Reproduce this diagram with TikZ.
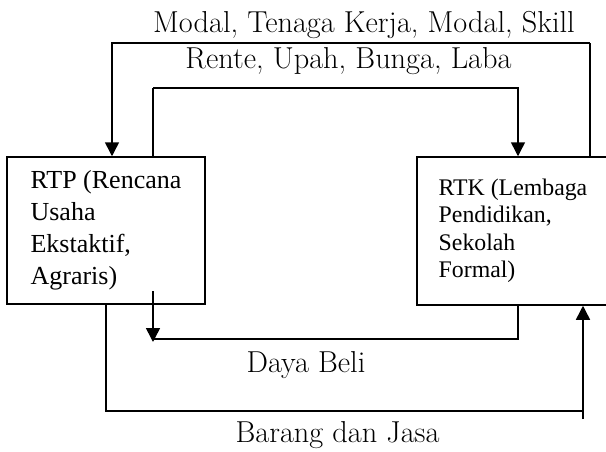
\documentclass[tikz,border=0pt]{standalone}
\usepackage{fontspec}
\newfontfamily\boxfont{LiberationSerif}[Extension=.ttf,UprightFont=*-Regular]
\usetikzlibrary{arrows.meta}
\tikzset{
  unit/.style={x=1pt,y=-1pt},
  sector/.style={draw,line width=1.5pt,rectangle,inner sep=0pt,align=left},
  flow/.style={line width=1.5pt},
  thinflow/.style={line width=1.1pt},
  tip/.style={-{Triangle[length=14pt,width=14pt]}},
  flowlabel/.style={anchor=base,inner sep=0pt,font=\fontsize{30.3}{34}\selectfont}
}
\begin{document}
\begin{tikzpicture}[unit]
  \useasboundingbox (0,0) rectangle (606,451);
  \clip (0,0) rectangle (606,451);

  % the two sectors
  \node[sector,minimum width=198pt,minimum height=147pt,
        font=\boxfont\fontsize{26}{32}\selectfont] (rtp) at (106,230.5)
    {RTP (Rencana\\Usaha\\Ekstaktif,\\Agraris)};
  \node[sector,minimum width=192pt,minimum height=148pt,
        font=\boxfont\fontsize{23.8}{27.5}\selectfont] (rtk) at (513,231)
    {RTK (Lembaga\\Pendidikan,\\Sekolah\\Formal)};

  % flow labels
  \node[flowlabel] (lfactor) at (364,32) {Modal, Tenaga Kerja, Modal, Skill};
  \node[flowlabel] (lincome) at (348.5,68) {Rente, Upah, Bunga, Laba};
  \node[flowlabel] (lbuy)    at (306,372) {Daya Beli};
  \node[flowlabel] (lgoods)  at (337.5,442) {Barang dan Jasa};

  % corner points of the loops
  \coordinate (oTR) at (590,43);
  \coordinate (oTL) at (112,43);
  \coordinate (iTL) at (153,88);
  \coordinate (iTR) at (518,88);
  \coordinate (iBR) at (518,339);
  \coordinate (iBL) at (153,339);
  \coordinate (dStart) at (153,291);
  \coordinate (dEnd) at (153,342);
  \coordinate (oBL) at (106,411);
  \coordinate (oBR) at (583,411);
  \coordinate (uStart) at (583,419);

  % factors of production: RTK -> RTP
  \draw[thinflow] (rtk.north -| oTR) -- (oTR);
  \draw[flow,tip] (oTR) -- (oTL) -- (rtp.north -| oTL);

  % income: RTP -> RTK
  \draw[thinflow] (rtp.north -| iTL) -- (iTL);
  \draw[flow,tip] (iTL) -- (iTR) -- (rtk.north -| iTR);

  % purchasing power
  \draw[flow] (rtk.south -| iBR) -- (iBR) -- (iBL);
  \draw[flow,tip] (dStart) -- (dEnd);

  % goods and services
  \draw[flow] (rtp.south -| oBL) -- (oBL) -- (oBR);
  \draw[flow,tip] (uStart) -- (rtk.south -| uStart);
\end{tikzpicture}
\end{document}
